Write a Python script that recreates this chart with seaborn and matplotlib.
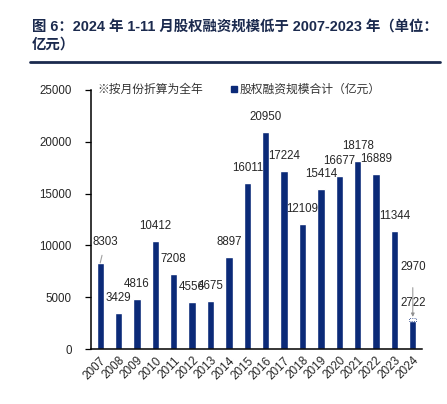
import matplotlib
matplotlib.use('Agg')
import matplotlib.pyplot as plt
import seaborn as sns
import pandas as pd
from matplotlib.lines import Line2D

# data
years = [str(y) for y in range(2007, 2025)]
amounts = [8303, 3429, 4816, 10412, 7208, 4556, 4675, 8897, 16011,
           20950, 17224, 12109, 15414, 16677, 18178, 16889, 11344, 2722]
annualized_2024 = 2970
title = '图 6：2024 年 1-11 月股权融资规模低于 2007-2023 年（单位：\n亿元）'
legend_labels = ['※按月份折算为全年', '股权融资规模合计（亿元）']

navy = '#0b2a78'
title_color = '#1b2a4e'

sns.set_style('white')
plt.rcParams['font.family'] = ['Liberation Sans', 'Noto Sans CJK SC', 'DejaVu Sans']

df = pd.DataFrame({'year': years, 'amount': amounts})

fig = plt.figure(figsize=(4.47, 4.04), dpi=100)
ax = fig.add_axes([91 / 447, 55 / 404, 331 / 447, 259 / 404])

sns.barplot(data=df, x='year', y='amount', color=navy, width=0.4,
            saturation=1, ax=ax)

# dashed top for the annualized 2024 estimate
last = len(years) - 1
ax.bar(last, annualized_2024 - amounts[-1], bottom=amounts[-1], width=0.4,
       facecolor='none', edgecolor=navy, linestyle=':', linewidth=0.6)

# value labels
for i, v in enumerate(amounts):
    if i == 0:
        ax.annotate(str(v), xy=(i, v), xytext=(5, 21), textcoords='offset pixels',
                    ha='center', va='center', fontsize=8.3,
                    arrowprops=dict(arrowstyle='-', color='#a0a0a0', lw=0.8,
                                    shrinkA=3, shrinkB=0))
    elif i == last:
        ax.annotate(str(v), xy=(i, v), xytext=(0, 18), textcoords='offset pixels',
                    ha='center', va='center', fontsize=8.3)
    else:
        ax.annotate(str(v), xy=(i, v), xytext=(0, 15), textcoords='offset pixels',
                    ha='center', va='center', fontsize=8.3)

ax.annotate(str(annualized_2024), xy=(last, annualized_2024), xytext=(0, 51),
            textcoords='offset pixels', ha='center', va='center', fontsize=8.3,
            arrowprops=dict(arrowstyle='-|>', color='#909090', lw=0.7,
                            mutation_scale=5, shrinkA=8, shrinkB=1))

ax.set_ylim(0, 25000)
ax.set_xlim(-0.5, len(years) - 0.5)
ax.set_yticks(range(0, 25001, 5000))
ax.set_xlabel('')
ax.set_ylabel('')

# x tick marks sit between bars, labels under bars
ax.set_xticks([i + 0.5 for i in range(-1, len(years))], minor=True)
ax.tick_params(axis='x', which='minor', length=4, width=0.9, direction='out', color='black')
ax.tick_params(axis='x', which='major', length=0, pad=4, labelsize=8.5)
ax.tick_params(axis='y', length=4, width=0.9, direction='out', color='black',
               pad=10, labelsize=8.3, left=True)
for lab in ax.get_xticklabels():
    lab.set_rotation(45)
    lab.set_ha('right')
    lab.set_va('top')
    lab.set_rotation_mode('anchor')

for side in ['top', 'right']:
    ax.spines[side].set_visible(False)
for side in ['left', 'bottom']:
    ax.spines[side].set_color('black')
    ax.spines[side].set_linewidth(1.1)

handles = [Line2D([], [], linestyle='none'),
           Line2D([], [], linestyle='none', marker='s', markersize=4,
                  color=navy)]
leg = ax.legend(handles, legend_labels, loc='center left', ncol=2,
                bbox_to_anchor=(-0.02, 1.0), frameon=False, fontsize=8.5,
                handlelength=0.5, handletextpad=0.2, columnspacing=2.4,
                borderaxespad=0)
for t in leg.get_texts():
    t.set_color('#333333')

fig.text(32 / 447, 1 - 20 / 404, title, fontsize=10.4, fontweight='bold',
         color=title_color, ha='left', va='top', linespacing=1.35)
fig.add_artist(Line2D([30 / 447, 440 / 447], [1 - 62 / 404, 1 - 62 / 404],
                      color=title_color, lw=2, transform=fig.transFigure))

fig.savefig('out.png', dpi=100)
